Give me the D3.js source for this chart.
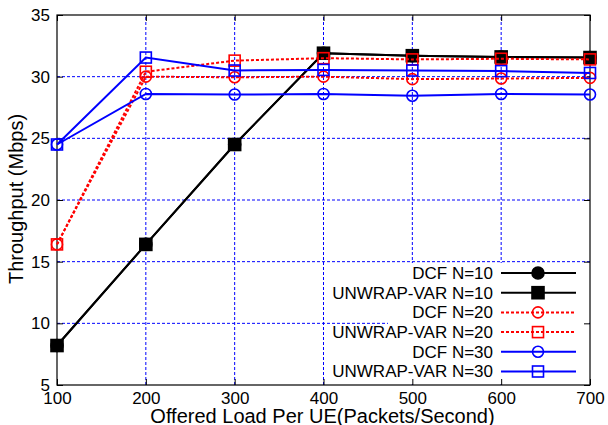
<!DOCTYPE html>
<html>
<head>
<meta charset="utf-8">
<script src="https://cdn.jsdelivr.net/npm/d3@7"></script>
<style>
  body { margin: 0; background: #fff; }
  svg { display: block; font-family: "Liberation Sans", Arial, sans-serif; }
</style>
</head>
<body>
<svg id="chart" width="608" height="425"></svg>
<script>
const loads = [100, 200, 300, 400, 500, 600, 700];
const dcf10 = [8.2, 16.4, 24.5, 31.9, 31.7, 31.6, 31.55];
const unwrap10 = [8.2, 16.4, 24.5, 31.9, 31.7, 31.6, 31.55];
const dcf20 = [16.4, 30.0, 29.95, 30.0, 29.8, 29.85, 29.9];
const unwrap20 = [16.4, 30.4, 31.3, 31.5, 31.4, 31.45, 31.4];
const dcf30 = [24.5, 28.6, 28.55, 28.6, 28.45, 28.6, 28.55];
const unwrap30 = [24.5, 31.55, 30.5, 30.55, 30.5, 30.45, 30.3];
const yTicks = [5, 10, 15, 20, 25, 30, 35];

const series = [
  { name: 'DCF N=10', values: dcf10, color: '#000', dash: null, marker: 'circle', fill: true },
  { name: 'UNWRAP-VAR N=10', values: unwrap10, color: '#000', dash: null, marker: 'square', fill: true },
  { name: 'DCF N=20', values: dcf20, color: '#f00', dash: '3,2', marker: 'circle', fill: false },
  { name: 'UNWRAP-VAR N=20', values: unwrap20, color: '#f00', dash: '3,2', marker: 'square', fill: false },
  { name: 'DCF N=30', values: dcf30, color: '#00f', dash: null, marker: 'circle', fill: false },
  { name: 'UNWRAP-VAR N=30', values: unwrap30, color: '#00f', dash: null, marker: 'square', fill: false }
];

const svg = d3.select('#chart');
const plotL = 57, plotR = 590, plotT = 15, plotB = 385;

const x = d3.scaleLinear().domain([100, 700]).range([plotL, plotR]);
const y = d3.scaleLinear().domain([5, 35]).range([plotB, plotT]);

// grid
const grid = svg.append('g')
  .attr('stroke', '#00f')
  .attr('stroke-width', 1)
  .attr('stroke-dasharray', '3,2');
grid.selectAll('.gx')
  .data(loads.slice(1, -1))
  .join('line')
  .attr('x1', d => x(d)).attr('x2', d => x(d))
  .attr('y1', plotB).attr('y2', plotT);
grid.selectAll('.gy')
  .data(yTicks.slice(1, -1))
  .join('line')
  .attr('x1', plotL).attr('x2', plotR)
  .attr('y1', d => y(d)).attr('y2', d => y(d));

// key area hides the grid
svg.append('rect')
  .attr('x', 388).attr('y', 263)
  .attr('width', plotR - 388 - 1).attr('height', plotB - 263 - 1)
  .attr('fill', '#fff');

// axes with inward ticks on all sides
const axisG = svg.append('g');
const xAxisB = axisG.append('g')
  .attr('transform', `translate(0,${plotB})`)
  .call(d3.axisBottom(x).tickValues(loads).tickSizeInner(-6).tickSizeOuter(0).tickPadding(11));
axisG.append('g')
  .attr('transform', `translate(0,${plotT})`)
  .call(d3.axisTop(x).tickValues(loads).tickSizeInner(-6).tickSizeOuter(0))
  .selectAll('text').remove();
const yAxisL = axisG.append('g')
  .attr('transform', `translate(${plotL},0)`)
  .call(d3.axisLeft(y).tickValues(yTicks).tickSizeInner(-6).tickSizeOuter(0).tickPadding(7));
axisG.append('g')
  .attr('transform', `translate(${plotR},0)`)
  .call(d3.axisRight(y).tickValues(yTicks).tickSizeInner(-6).tickSizeOuter(0))
  .selectAll('text').remove();
axisG.selectAll('.domain').remove();
axisG.selectAll('g').attr('font-size', 17).attr('font-family', null);
axisG.selectAll('text').attr('fill', '#000');
xAxisB.selectAll('text').attr('dy', '0.47em');
axisG.selectAll('line').attr('stroke', '#000');

svg.append('rect')
  .attr('x', plotL).attr('y', plotT)
  .attr('width', plotR - plotL).attr('height', plotB - plotT)
  .attr('fill', 'none').attr('stroke', '#000').attr('stroke-width', 1.2);

// data
const line = d3.line().x(d => x(d[0])).y(d => y(d[1]));

function drawMarker(g, s, cx, cy) {
  if (s.marker === 'circle') {
    g.append('circle')
      .attr('cx', cx).attr('cy', cy).attr('r', s.fill ? 6 : 5.5)
      .attr('fill', s.fill ? s.color : 'none')
      .attr('stroke', s.color).attr('stroke-width', 1.6);
  } else {
    const h = s.fill ? 6 : 5.5;
    g.append('rect')
      .attr('x', cx - h).attr('y', cy - h)
      .attr('width', 2 * h).attr('height', 2 * h)
      .attr('fill', s.fill ? s.color : 'none')
      .attr('stroke', s.color).attr('stroke-width', 1.6);
  }
}

series.forEach(s => {
  const pts = loads.map((l, i) => [l, s.values[i]]);
  const g = svg.append('g');
  g.append('path')
    .attr('d', line(pts))
    .attr('fill', 'none')
    .attr('stroke', s.color)
    .attr('stroke-width', 2)
    .attr('stroke-dasharray', s.dash);
  pts.forEach(p => drawMarker(g, s, x(p[0]), y(p[1])));
});

// legend
const key = svg.append('g').attr('font-size', 17);
series.forEach((s, i) => {
  const ky = 273 + i * 19.7;
  key.append('text')
    .attr('x', 493).attr('y', ky).attr('dy', '0.35em')
    .attr('text-anchor', 'end')
    .text(s.name);
  key.append('line')
    .attr('x1', 501).attr('x2', 576)
    .attr('y1', ky).attr('y2', ky)
    .attr('stroke', s.color).attr('stroke-width', 2)
    .attr('stroke-dasharray', s.dash);
  drawMarker(key, s, 538, ky);
});

// axis titles
svg.append('text')
  .attr('x', (plotL + plotR) / 2 - 1).attr('y', 423)
  .attr('text-anchor', 'middle')
  .attr('font-size', 20)
  .text('Offered Load Per UE(Packets/Second)');
svg.append('text')
  .attr('transform', 'translate(23,199) rotate(-90)')
  .attr('text-anchor', 'middle')
  .attr('font-size', 20)
  .text('Throughput (Mbps)');
</script>
</body>
</html>
